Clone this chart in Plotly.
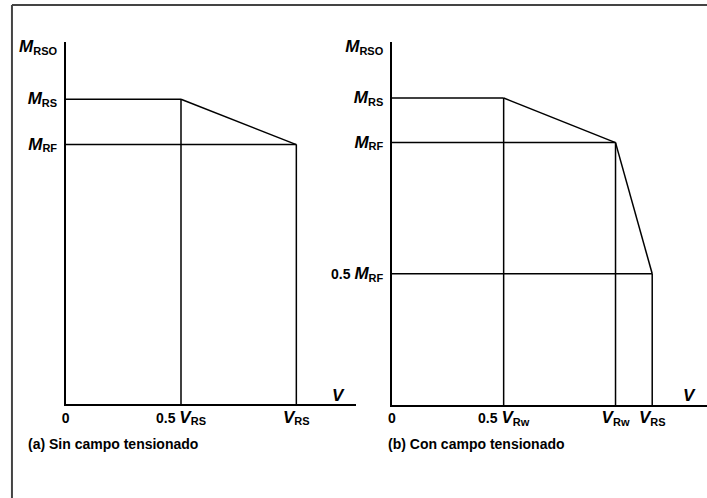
import plotly.graph_objects as go

# panel (a): sin campo tensionado  (units: V / V_RS, M / M_RF)
a_v = [0, 0.5, 1.0]
a_m_rs = 1.175
a_m_rf = 1.0
a_m_rso = 1.375
a_xticks = ["0", "0.5 {V}{s:RS}", "{V}{s:RS}"]

# panel (b): con campo tensionado  (units: V / V_Rw, M / M_RF)
b_v = [0, 0.5, 1.0, 1.164]
b_m_rs = 1.17
b_m_rf = 1.0
b_m_half = 0.5
b_m_rso = 1.365
b_xticks = ["0", "0.5 {V}{s:Rw}", "{V}{s:Rw}", "{V}{s:RS}"]

y_labels_a = ["{M}{s:RF}", "{M}{s:RS}", "{M}{s:RSO}"]
y_labels_b = ["0.5 {M}{s:RF}", "{M}{s:RF}", "{M}{s:RS}", "{M}{s:RSO}"]

FONT = "Liberation Sans, Arial, sans-serif"
W, H = 707, 498
DX, DY = -3, -3  # small page offset correction (px)
BIG = "<span style='font-size:17px'><i>{}</i></span>"


class Sub:
    def __format__(self, spec):
        return "<sub><span style='font-size:11px'>" + spec + "</span></sub>"


def fmt(labels):
    return [t.format(M=BIG.format("M"), V=BIG.format("V"), s=Sub()) for t in labels]


def px_x(p):
    return (p + DX) / W


def px_y(p):
    return 1 - (p + DY) / H


def segs(pairs):
    xs, ys = [], []
    for (x0, y0), (x1, y1) in pairs:
        xs += [x0, x1, None]
        ys += [y0, y1, None]
    return xs, ys


# (a) envelope and guide lines
ax_, ay_ = segs([
    ((a_v[0], a_m_rs), (a_v[1], a_m_rs)),
    ((a_v[1], a_m_rs), (a_v[2], a_m_rf)),
    ((a_v[0], a_m_rf), (a_v[2], a_m_rf)),
    ((a_v[1], 0), (a_v[1], a_m_rs)),
    ((a_v[2], 0), (a_v[2], a_m_rf)),
])

# (b) envelope and guide lines
bx_, by_ = segs([
    ((b_v[0], b_m_rs), (b_v[1], b_m_rs)),
    ((b_v[1], b_m_rs), (b_v[2], b_m_rf)),
    ((b_v[2], b_m_rf), (b_v[3], b_m_half)),
    ((b_v[0], b_m_rf), (b_v[2], b_m_rf)),
    ((b_v[0], b_m_half), (b_v[3], b_m_half)),
    ((b_v[1], 0), (b_v[1], b_m_rs)),
    ((b_v[2], 0), (b_v[2], b_m_rf)),
    ((b_v[3], 0), (b_v[3], b_m_half)),
])

fig = go.Figure()
fig.add_trace(go.Scatter(x=ax_, y=ay_, mode="lines", line=dict(color="black", width=1.5),
                         xaxis="x", yaxis="y", hoverinfo="skip"))
fig.add_trace(go.Scatter(x=bx_, y=by_, mode="lines", line=dict(color="black", width=1.5),
                         xaxis="x2", yaxis="y2", hoverinfo="skip"))

tickfont = dict(family=FONT, size=14, color="black", weight="bold")
common = dict(showline=True, linecolor="black", linewidth=1.5, showgrid=False, zeroline=False,
              ticks="", tickfont=tickfont, mirror=False)

# panel (b) x-axis runs to the right edge of the page
x2_end = (W - 393) / 225.0

fig.update_layout(
    width=W, height=H,
    margin=dict(l=0, r=0, t=0, b=0),
    paper_bgcolor="white", plot_bgcolor="white",
    showlegend=False,
    xaxis=dict(domain=[px_x(65), px_x(357)], range=[0, 1.2586], tickvals=a_v, ticktext=fmt(a_xticks),
               anchor="y", ticklabelstandoff=0, **common),
    yaxis=dict(domain=[px_y(406), px_y(40)], range=[0, 1.397],
               tickvals=[a_m_rf, a_m_rs, a_m_rso], ticktext=fmt(y_labels_a), anchor="x",
               ticklabelstandoff=4, **common),
    xaxis2=dict(domain=[px_x(393), 1.0], range=[0, x2_end * (W - 393 - DX) / (W - 393)],
                tickvals=b_v, ticktext=fmt(b_xticks), anchor="y2", ticklabelstandoff=0, **common),
    yaxis2=dict(domain=[px_y(407), px_y(40)], range=[0, 1.385],
                tickvals=[b_m_half, b_m_rf, b_m_rs, b_m_rso], ticktext=fmt(y_labels_b), anchor="x2",
                ticklabelstandoff=4, **common),
    font=dict(family=FONT, color="black"),
)

# axis name "V" and captions
for x_px in (339, 692):
    fig.add_annotation(x=px_x(x_px), y=px_y(397), xref="paper", yref="paper", text="<i>V</i>",
                       xanchor="center", yanchor="middle", showarrow=False,
                       font=dict(family=FONT, size=17, color="black", weight="bold"))
fig.add_annotation(x=px_x(25), y=px_y(446), xref="paper", yref="paper", xanchor="left",
                   yanchor="middle", text="(a) Sin campo tensionado", showarrow=False,
                   font=dict(family=FONT, size=14, color="black", weight="bold"))
fig.add_annotation(x=px_x(387), y=px_y(446), xref="paper", yref="paper", xanchor="left",
                   yanchor="middle", text="(b) Con campo tensionado", showarrow=False,
                   font=dict(family=FONT, size=14, color="black", weight="bold"))

# frame (left and top edges visible)
fig.add_shape(type="line", xref="paper", yref="paper", x0=px_x(11), x1=1, y0=px_y(3), y1=px_y(3),
              line=dict(color="#444", width=2))
fig.add_shape(type="line", xref="paper", yref="paper", x0=px_x(11), x1=px_x(11), y0=0, y1=px_y(3),
              line=dict(color="#444", width=2))

fig.write_html("out.html", config={"displayModeBar": False},
               post_script="document.body.style.margin='0px';")
